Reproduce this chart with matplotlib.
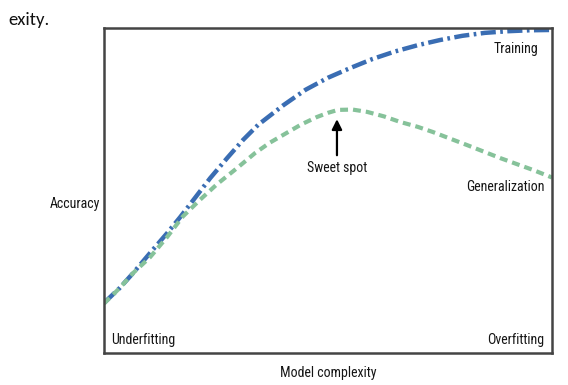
import matplotlib.pyplot as plt
from matplotlib import font_manager

# curve points (model complexity vs accuracy, 0..1 scale)
train_x = [0.0, 0.035, 0.065, 0.103, 0.141, 0.17, 0.208, 0.237, 0.275, 0.31, 0.344, 0.4, 0.45, 0.5, 0.55, 0.6, 0.65, 0.7, 0.75, 0.8, 0.85, 0.9, 0.95, 1.0]
train_y = [0.154, 0.2, 0.246, 0.308, 0.369, 0.418, 0.486, 0.538, 0.6, 0.655, 0.702, 0.762, 0.81, 0.847, 0.877, 0.905, 0.928, 0.947, 0.963, 0.976, 0.985, 0.99, 0.993, 0.994]

gen_x = [0.0, 0.035, 0.065, 0.103, 0.141, 0.176, 0.214, 0.252, 0.297, 0.337, 0.37, 0.4, 0.44, 0.475, 0.5, 0.522, 0.555, 0.587, 0.625, 0.661, 0.7, 0.734, 0.77, 0.81, 0.847, 0.884, 0.92, 0.958, 1.0]
gen_y = [0.152, 0.2, 0.246, 0.295, 0.357, 0.42, 0.471, 0.519, 0.569, 0.615, 0.647, 0.671, 0.703, 0.726, 0.739, 0.748, 0.749, 0.742, 0.728, 0.711, 0.696, 0.68, 0.661, 0.64, 0.62, 0.6, 0.582, 0.563, 0.54]

names = {f.name for f in font_manager.fontManager.ttflist}
narrow = next((n for n in ["Liberation Sans Narrow", "DejaVu Sans Condensed", "Roboto Condensed", "Open Sans Condensed", "Roboto"] if n in names), "DejaVu Sans")
body = next((n for n in ["Carlito", "Lato", "Open Sans"] if n in names), "DejaVu Sans")

fig = plt.figure(figsize=(5.68, 3.85), dpi=100)
ax = fig.add_axes([104 / 568, 32 / 385, 448 / 568, 325 / 385])

ax.plot(train_x, train_y, color="#3a6db3", lw=3.2, dashes=(3.4, 1.0, 0.6, 1.0))
ax.plot(gen_x, gen_y, color="#86c29a", lw=3.0, dashes=(1.9, 1.2))

ax.set_xlim(0, 1)
ax.set_ylim(0, 1)
ax.set_xticks([])
ax.set_yticks([])
for s in ax.spines.values():
    s.set_color("#444444")
    s.set_linewidth(1.8)

fnt = dict(family=narrow, fontsize=10, color="#151515")
if narrow == "Roboto":
    fnt["stretch"] = "condensed"
ax.text(0.969, 0.935, "Training", ha="right", va="center", **fnt)
ax.text(0.984, 0.51, "Generalization", ha="right", va="center", **fnt)
ax.text(0.52, 0.569, "Sweet spot", ha="center", va="center", **fnt)
ax.text(0.015, 0.04, "Underfitting", ha="left", va="center", **fnt)
ax.text(0.983, 0.04, "Overfitting", ha="right", va="center", **fnt)
ax.annotate("", xy=(0.52, 0.728), xytext=(0.52, 0.6),
            arrowprops=dict(arrowstyle="-|>,head_width=0.3,head_length=0.6", color="black", lw=1.6))

fig.text(75 / 568, 1 - 204 / 385, "Accuracy", ha="center", va="center", **fnt)
fig.text(328 / 568, 1 - 373 / 385, "Model complexity", ha="center", va="center", **fnt)
fig.text(8 / 568, 1 - 20 / 385, "exity.", ha="left", va="center", family=body, fontsize=13.5, color="#111111")

fig.savefig("out.png", dpi=100)
